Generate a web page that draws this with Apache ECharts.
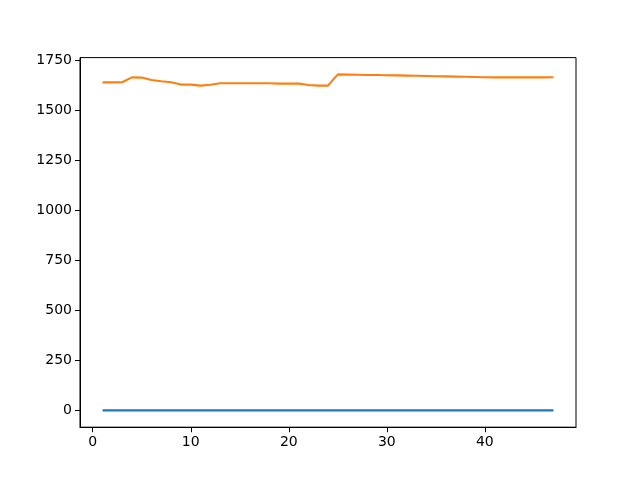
<!DOCTYPE html>
<html>
<head>
<meta charset="utf-8">
<script src="https://cdn.jsdelivr.net/npm/echarts@6/dist/echarts.min.js"></script>
<style>html,body{margin:0;padding:0;background:#fff}#c{width:640px;height:480px}</style>
</head>
<body>
<div id="c"></div>
<script>
const xValues = [1,2,3,4,5,6,7,8,9,10,11,12,13,14,15,16,17,18,19,20,21,22,23,24,25,26,27,28,29,30,31,32,33,34,35,36,37,38,39,40,41,42,43,44,45,46,47];
const seriesA = [0,0,0,0,0,0,0,0,0,0,0,0,0,0,0,0,0,0,0,0,0,0,0,0,0,0,0,0,0,0,0,0,0,0,0,0,0,0,0,0,0,0,0,0,0,0,0];
const seriesB = [1640,1640,1641,1665,1664,1652,1646,1641,1629,1629,1624,1628,1636,1636,1636,1636,1636,1636,1634,1634,1634,1627,1624,1624,1680,1679,1678,1677,1677,1676,1675,1674,1673,1672,1671,1670,1669,1668,1667,1666,1665,1665,1665,1665,1665,1665,1666];
const xTicks = [0,10,20,30,40];
const yTicks = [0,250,500,750,1000,1250,1500,1750];

const chart = echarts.init(document.getElementById('c'), null, {renderer:'canvas'});
const font = {fontFamily:'DejaVu Sans', fontSize:14, color:'#000', formatter:(v)=>String(v)};
chart.setOption({
  animation:false,
  grid:{left:80, right:64, top:57.6, bottom:52.8, show:true, borderColor:'#000', borderWidth:1, backgroundColor:'transparent'},
  xAxis:{type:'value', min:-1.3, max:49.3,
    axisLine:{show:true, onZero:false, lineStyle:{color:'#000', width:1}},
    axisTick:{show:true, length:5, inside:false, customValues:xTicks, lineStyle:{color:'#000'}},
    axisLabel:Object.assign({margin:8, customValues:xTicks}, font),
    splitLine:{show:false}},
  yAxis:{type:'value', min:-84, max:1764,
    axisLine:{show:true, onZero:false, lineStyle:{color:'#000', width:1}},
    axisTick:{show:true, length:5, inside:false, customValues:yTicks, lineStyle:{color:'#000'}},
    axisLabel:Object.assign({margin:8, customValues:yTicks}, font),
    splitLine:{show:false}},
  series:[
    {type:'line', data:xValues.map((x,i)=>[x,seriesA[i]]), showSymbol:false, lineStyle:{color:'#1f77b4', width:2.1}, itemStyle:{color:'#1f77b4'}},
    {type:'line', data:xValues.map((x,i)=>[x,seriesB[i]]), showSymbol:false, lineStyle:{color:'#ff7f0e', width:2.1}, itemStyle:{color:'#ff7f0e'}}
  ]
});
</script>
</body>
</html>
